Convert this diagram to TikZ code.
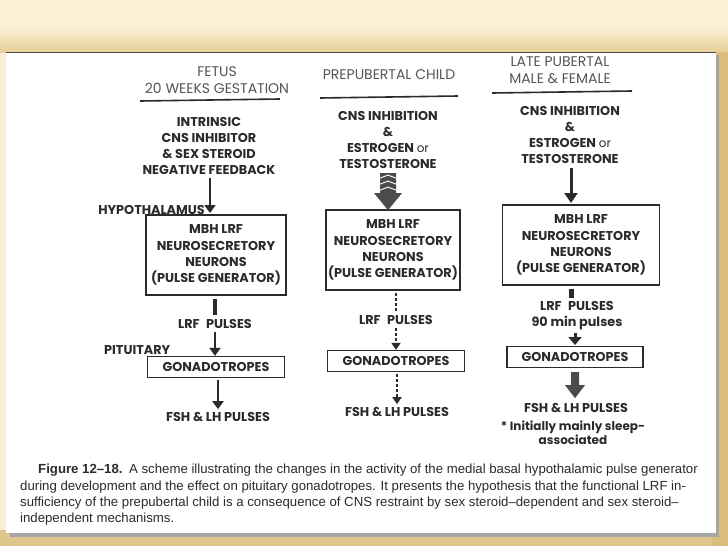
\documentclass[tikz,border=0pt]{standalone}
\usepackage{fontspec}
\setmainfont{Poppins}
\newfontfamily\captionfont{Liberation Sans}
\usetikzlibrary{arrows.meta}

\definecolor{slidecream}{HTML}{FBF0D3}
\definecolor{slidetan}{HTML}{E6CF98}
\definecolor{slidegold}{HTML}{D2AE5C}
\definecolor{inkgray}{HTML}{2B2B2B}

\tikzset{
  lbl/.style={font=\fontsize{12.8}{16.2}\selectfont\bfseries, text=inkgray, align=center, inner sep=0pt},
  colhead/.style={font=\fontsize{14}{16.5}\selectfont, text=inkgray!80, align=center, inner sep=0pt},
  lrfbox/.style={lbl, draw=inkgray, line width=1.3pt, minimum height=80pt},
  gonbox/.style={lbl, draw=inkgray, line width=1.3pt, minimum height=21pt},
  flowarrow/.style={draw=inkgray, line width=2.6pt, -{Triangle[width=11pt,length=8pt]}},
  flowbar/.style={draw=inkgray, line width=3.6pt},
  dasharrow/.style={draw=inkgray, line width=2.4pt, dash pattern=on 3pt off 2pt, -{Triangle[width=9pt,length=7pt]}},
  capline/.style={font=\captionfont\fontsize{13.2}{14}\selectfont, text=inkgray, anchor=west, inner sep=0pt},
}

\begin{document}
\begin{tikzpicture}[x=1pt, y=-1pt]
    \useasboundingbox (0,0) rectangle (728,546);
    % slide background
    \fill[slidecream] (0,0) rectangle (728,546);
    \shade[top color=slidecream, bottom color=slidetan] (0,28) rectangle (728,52);
    \fill[slidegold!70] (0,530) rectangle (728,546);
    \fill[slidegold!80] (712,52) rectangle (728,546);
    \fill[black!35] (10,55) rectangle (719,537);
    \fill[white] (6,52) rectangle (716,533);
    \draw[black!70, line width=0.8pt] (6,52) -- (716,52);

    % column headings
    \node[colhead] (fethead) at (217,80) {FETUS\\20 WEEKS GESTATION};
    \node[colhead] (pchead) at (389,75) {PREPUBERTAL CHILD};
    \node[colhead] (lphead) at (560,70) {LATE PUBERTAL\\MALE \& FEMALE};
    \draw[inkgray, line width=1.6pt] (140,101) -- (280,99);
    \draw[inkgray, line width=1.6pt] (320,98) -- (458,96);
    \draw[inkgray, line width=1.6pt] (492,93) -- (632,91);

    % fetus
    \node[lbl] (fetin) at (209,146) {INTRINSIC\\CNS INHIBITOR\\\& SEX STEROID\\NEGATIVE FEEDBACK};
    \node[lrfbox, minimum width=140pt] (fetbox) at (216,255) {MBH LRF\\NEUROSECRETORY\\NEURONS\\(PULSE GENERATOR)};
    \node[lbl, anchor=east] (hypolbl) at (205,210) {HYPOTHALAMUS};
    \node[lbl] (fetlrf) at (215,324) {LRF\enspace PULSES};
    \node[lbl, anchor=west] (pitlbl) at (104,350) {PITUITARY};
    \node[gonbox, minimum width=137pt] (fetgon) at (216,367) {GONADOTROPES};
    \node[lbl] (fetfsh) at (218,417) {FSH \& LH PULSES};
    \draw[flowarrow, line width=2.2pt] (fetin.south -| 210,0) ++(0,3) -- (210,213);
    \draw[flowbar] (fetbox.south -| fetlrf) ++(0,3) -- ([yshift=4pt]fetlrf.north);
    \draw[flowarrow] ([yshift=-3pt]fetlrf.south) -- (fetlrf.south |- fetgon.north);
    \draw[flowarrow] (fetgon.south -| fetfsh) ++(0,2) -- ([yshift=3pt]fetfsh.north);

    % prepubertal child
    \node[lbl] (pcin) at (388,140) {CNS INHIBITION\\\&\\ESTROGEN {\normalfont\fontsize{12}{15}\selectfont or}\\TESTOSTERONE};
    \node[lrfbox, minimum width=134pt] (pcbox) at (393,250) {MBH LRF\\NEUROSECRETORY\\NEURONS\\(PULSE GENERATOR)};
    \node[lbl] (pclrf) at (396,320) {LRF\enspace PULSES};
    \node[gonbox, minimum width=137pt] (pcgon) at (396,361) {GONADOTROPES};
    \node[lbl] (pcfsh) at (397,412) {FSH \& LH PULSES};
    % hatched fat arrow
    \fill[inkgray!85] (pcin.south) ++(-8,4) -- ++(16,0) -- ++(0,20) -- ++(6,0)
        -- ++(-14,17) -- ++(-14,-17) -- ++(6,0) -- cycle;
    \foreach \k in {0,6,12} {
      \draw[white, line width=0.9pt] (pcin.south) ++(-8,9+\k) -- ++(8,-3) -- ++(8,3);
    }
    \draw[dasharrow, -] (pcbox.south -| pclrf) ++(0,2) -- ([yshift=4pt]pclrf.north);
    \draw[dasharrow] ([yshift=-3pt]pclrf.south) -- (pclrf.south |- pcgon.north);
    \draw[dasharrow] (pcgon.south -| pcfsh) ++(0,2) -- ([yshift=3pt]pcfsh.north);

    % late pubertal
    \node[lbl] (lpin) at (570,135) {CNS INHIBITION\\\&\\ESTROGEN {\normalfont\fontsize{12}{15}\selectfont or}\\TESTOSTERONE};
    \node[lrfbox, minimum width=157pt] (lpbox) at (581,245) {MBH LRF\\NEUROSECRETORY\\NEURONS\\(PULSE GENERATOR)};
    \node[lbl] (lplrf) at (577,316) {LRF\enspace PULSES\\90 min pulses};
    \node[gonbox, minimum width=136pt] (lpgon) at (575,357) {GONADOTROPES};
    \node[lbl] (lpfsh) at (576,408) {FSH \& LH PULSES};
    \node[lbl, font=\fontsize{12}{14}\selectfont\bfseries] (lpnote) at (573,433) {* Initially mainly sleep-\\associated};
    \draw[flowarrow, line width=3pt, -{Triangle[width=13pt,length=10pt]}] (lpin.south -| 571,0) ++(0,4) -- (571,203);
    \draw[flowbar, line width=5pt] (lpbox.south -| 571,0) ++(0,3) -- ([yshift=3pt]lplrf.north -| 571,0);
    \draw[flowarrow, line width=3pt, -{Triangle[width=13pt,length=8pt]}] ([yshift=-2pt]lplrf.south -| 575,0) -- (575,345);
    \fill[inkgray!85] (lpgon.south -| 575,0) ++(-4,4) -- ++(8,0) -- ++(0,13) -- ++(6,0)
        -- ++(-10,13) -- ++(-10,-13) -- ++(6,0) -- cycle;

    % caption
    \begin{scope}
      \clip (6,455) rectangle (716,533);
      \node[capline] (capa) at (38,470) {{\bfseries Figure 12–18.}\enspace A scheme illustrating the changes in the activity of the medial basal hypothalamic pulse generator};
      \node[capline] (capb) at (20,487) {during development and the effect on pituitary gonadotropes. It presents the hypothesis that the functional LRF in-};
      \node[capline] (capc) at (20,503) {sufficiency of the prepubertal child is a consequence of CNS restraint by sex steroid–dependent and sex steroid–};
      \node[capline] (capd) at (20,519) {independent mechanisms.};
    \end{scope}
\end{tikzpicture}
\end{document}
